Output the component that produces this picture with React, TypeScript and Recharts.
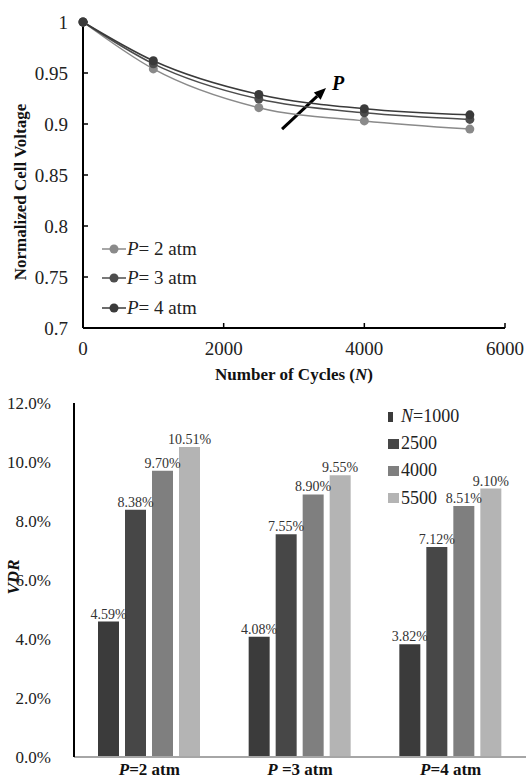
import React from 'react';
import {
  LineChart,
  Line,
  XAxis,
  YAxis,
  BarChart,
  Bar,
  LabelList,
  Legend,
  ReferenceLine,
} from 'recharts';

// ---------- Top chart data ----------
const cycles = [0, 1000, 2500, 4000, 5500];
const voltP2 = [1, 0.954, 0.916, 0.903, 0.895];
const voltP3 = [1, 0.959, 0.9245, 0.911, 0.9045];
const voltP4 = [1, 0.962, 0.929, 0.915, 0.909];
const cycleTicks = [0, 2000, 4000, 6000];
const voltTicks = [0.7, 0.75, 0.8, 0.85, 0.9, 0.95, 1];
const lineNames = ['2', '3', '4'];
const lineColors = ['#8a8a8a', '#4d4d4d', '#3a3a3a'];

// ---------- Bottom chart data ----------
const pressures = ['P=2 atm', 'P =3 atm', 'P=4 atm'];
const vdr1000 = [4.59, 4.08, 3.82];
const vdr2500 = [8.38, 7.55, 7.12];
const vdr4000 = [9.7, 8.9, 8.51];
const vdr5500 = [10.51, 9.55, 9.1];
const vdrTicks = [0, 2, 4, 6, 8, 10, 12];
const barKeys = ['n1000', 'n2500', 'n4000', 'n5500'];
const barLabels = ['1000', '2500', '4000', '5500'];
const barColors = ['#3b3b3b', '#474747', '#7f7f7f', '#b4b4b4'];

const lineData = cycles.map((n, i) => ({
  n,
  p2: voltP2[i],
  p3: voltP3[i],
  p4: voltP4[i],
}));

const barData = pressures.map((p, i) => ({
  p,
  n1000: vdr1000[i],
  n2500: vdr2500[i],
  n4000: vdr4000[i],
  n5500: vdr5500[i],
}));

const serif = 'Liberation Serif, DejaVu Serif, serif';

const XTitle = (props: any) => {
  const vb = props.viewBox || {};
  const cx = vb.x + vb.width / 2;
  return (
    <text x={cx} y={vb.y + 52} textAnchor="middle" style={{ fontFamily: serif }} fontWeight="bold" fontSize={17} fill="#111">
      Number of Cycles (<tspan fontStyle="italic">N</tspan>)
    </text>
  );
};

const YTitle = (props: any) => {
  const vb = props.viewBox || {};
  const cy = vb.y + vb.height / 2 + 17;
  return (
    <text x={26} y={cy} transform={`rotate(-90 26 ${cy})`} textAnchor="middle" style={{ fontFamily: serif }} fontWeight="bold" fontSize={17} fill="#111">
      Normalized Cell Voltage
    </text>
  );
};

const VdrTitle = (props: any) => {
  const vb = props.viewBox || {};
  const cy = vb.y + vb.height / 2 - 3;
  return (
    <text x={19} y={cy} transform={`rotate(-90 19 ${cy})`} textAnchor="middle" style={{ fontFamily: serif }} fontWeight="bold" fontStyle="italic" fontSize={17} fill="#111">
      VDR
    </text>
  );
};

const ArrowShape = (props: any) => {
  const { x1, y1, x2, y2 } = props;
  const ang = Math.atan2(y2 - y1, x2 - x1);
  const L = 12;
  const W = 5;
  const bx = x2 - L * Math.cos(ang);
  const by = y2 - L * Math.sin(ang);
  const px = -Math.sin(ang) * W;
  const py = Math.cos(ang) * W;
  return (
    <g>
      <line x1={x1} y1={y1} x2={bx} y2={by} stroke="#000" strokeWidth={3} />
      <polygon points={`${x2},${y2} ${bx + px},${by + py} ${bx - px},${by - py}`} fill="#000" />
      <text x={x2 + 6} y={y2 + 2} style={{ fontFamily: serif }} fontWeight="bold" fontStyle="italic" fontSize={20} fill="#000">
        P
      </text>
    </g>
  );
};

const LineLegend = () => (
  <div style={{ fontFamily: serif, fontSize: 19, color: '#222' }}>
    {lineNames.map((nm, i) => (
      <div key={nm} style={{ display: 'flex', alignItems: 'center', height: 29.5 }}>
        <svg width={24} height={12} style={{ display: 'block' }}>
          <line x1={0} y1={6} x2={24} y2={6} stroke={lineColors[i]} strokeWidth={1.5} />
          <circle cx={12} cy={6} r={4.5} fill={lineColors[i]} />
        </svg>
        <span style={{ marginLeft: 1, whiteSpace: 'nowrap' }}>
          <i>P</i>= {nm} atm
        </span>
      </div>
    ))}
  </div>
);

const BarLegend = () => (
  <div style={{ fontFamily: serif, fontSize: 18, color: '#222' }}>
    {barLabels.map((lb, i) => (
      <div key={lb} style={{ display: 'flex', alignItems: 'center', height: 27.2 }}>
        <span
          style={{
            display: 'inline-block',
            width: i === 0 ? 5 : 11,
            height: 10,
            background: barColors[i],
            marginRight: i === 0 ? 8 : 2,
          }}
        />
        <span style={{ whiteSpace: 'nowrap' }}>
          {i === 0 ? (
            <>
              <i>N</i>={lb}
            </>
          ) : (
            lb
          )}
        </span>
      </div>
    ))}
  </div>
);

const CatTick = (props: any) => {
  const { x, y, payload } = props;
  const v: string = payload.value;
  return (
    <text x={x} y={y + 18} textAnchor="middle" style={{ fontFamily: serif }} fontWeight="bold" fontSize={17} fill="#111">
      <tspan fontStyle="italic">{v.charAt(0)}</tspan>
      {v.slice(1)}
    </text>
  );
};

const tickStyleTop = { fill: '#222', fontSize: 19, style: { fontFamily: serif } };
const tickStyleBottom = { fill: '#222', fontSize: 17, style: { fontFamily: serif } };

export default function App() {
  return (
    <div style={{ position: 'absolute', left: 0, top: 0, width: 526, height: 778, background: '#fff', fontFamily: serif }}>
      <div style={{ position: 'absolute', left: 0, top: 0 }}>
        <LineChart width={526} height={390} data={lineData} margin={{ top: 22, right: 21, bottom: 0, left: 0 }} style={{ fontFamily: serif }}>
          <XAxis
            dataKey="n"
            type="number"
            domain={[0, 6000]}
            ticks={cycleTicks}
            height={62}
            tickSize={-5}
            tickMargin={19}
            axisLine={{ stroke: '#000', strokeWidth: 2 }}
            tickLine={{ stroke: '#000', strokeWidth: 1.5 }}
            tick={tickStyleTop}
            label={(p: any) => <XTitle {...p} />}
          />
          <XAxis
            xAxisId="top"
            orientation="top"
            type="number"
            domain={[0, 6000]}
            height={0}
            tick={false}
            tickLine={false}
            axisLine={{ stroke: '#000', strokeWidth: 2 }}
          />
          <YAxis
            type="number"
            domain={[0.7, 1]}
            ticks={voltTicks}
            width={83}
            tickSize={-5}
            tickMargin={20}
            axisLine={{ stroke: '#000', strokeWidth: 2 }}
            tickLine={{ stroke: '#000', strokeWidth: 1.5 }}
            tick={tickStyleTop}
            label={(p: any) => <YTitle {...p} />}
          />
          <YAxis
            yAxisId="right"
            orientation="right"
            type="number"
            domain={[0.7, 1]}
            width={0}
            tick={false}
            tickLine={false}
            axisLine={{ stroke: '#000', strokeWidth: 2 }}
          />
          <Legend
            layout="vertical"
            align="center"
            verticalAlign="middle"
            content={() => <LineLegend />}
            wrapperStyle={{ left: 102, top: 234, width: 140 }}
          />
          <ReferenceLine
            segment={[
              { x: 2830, y: 0.895 },
              { x: 3455, y: 0.9353 },
            ]}
            shape={(p: any) => <ArrowShape {...p} />}
          />
          <Line type="monotone" dataKey="p2" stroke={lineColors[0]} strokeWidth={1.5} dot={{ r: 4.5, fill: lineColors[0], strokeWidth: 0 }} activeDot={false} isAnimationActive={false} />
          <Line type="monotone" dataKey="p3" stroke={lineColors[1]} strokeWidth={1.5} dot={{ r: 4.5, fill: lineColors[1], strokeWidth: 0 }} activeDot={false} isAnimationActive={false} />
          <Line type="monotone" dataKey="p4" stroke={lineColors[2]} strokeWidth={1.5} dot={{ r: 4.5, fill: lineColors[2], strokeWidth: 0 }} activeDot={false} isAnimationActive={false} />
        </LineChart>
      </div>
      <div style={{ position: 'absolute', left: 0, top: 380 }}>
        <BarChart
          width={526}
          height={398}
          data={barData}
          margin={{ top: 23, right: 0, bottom: 0, left: 0 }}
          barCategoryGap={24}
          barGap={6}
          style={{ fontFamily: serif }}
        >
          <XAxis
            dataKey="p"
            height={21}
            interval={0}
            tickLine={false}
            tickSize={0}
            tickMargin={0}
            axisLine={{ stroke: '#a6a6a6', strokeWidth: 2 }}
            tick={(p: any) => <CatTick {...p} />}
          />
          <XAxis
            xAxisId="top"
            orientation="top"
            dataKey="p"
            height={0}
            tick={false}
            tickLine={false}
            axisLine={{ stroke: '#000', strokeWidth: 2 }}
          />
          <YAxis
            type="number"
            domain={[0, 12]}
            ticks={vdrTicks}
            width={74}
            tickLine={false}
            tickMargin={17}
            axisLine={{ stroke: '#000', strokeWidth: 2 }}
            tick={tickStyleBottom}
            tickFormatter={(v: number) => `${v.toFixed(1)}%`}
            label={(p: any) => <VdrTitle {...p} />}
          />
          <Legend
            layout="vertical"
            align="center"
            verticalAlign="middle"
            content={() => <BarLegend />}
            wrapperStyle={{ left: 388, top: 23, width: 130 }}
          />
          {barKeys.map((k, i) => (
            <Bar key={k} dataKey={k} fill={barColors[i]} isAnimationActive={false}>
              <LabelList
                dataKey={k}
                position="top"
                offset={3}
                fill="#333"
                fontSize={14}
                style={{ fontFamily: serif }}
                formatter={(v: any) => `${Number(v).toFixed(2)}%`}
              />
            </Bar>
          ))}
        </BarChart>
      </div>
    </div>
  );
}
